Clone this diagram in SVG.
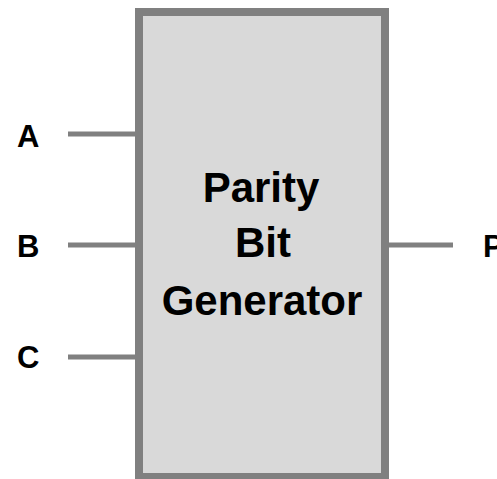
<svg xmlns="http://www.w3.org/2000/svg" width="497" height="479" viewBox="0 0 497 479">
<style>
.wire{stroke:#808080;stroke-width:5;fill:none}
.lbl{font-family:"Liberation Sans",Arial,sans-serif;font-weight:bold;font-size:31px;fill:#000}
.title{font-family:"Liberation Sans",Arial,sans-serif;font-weight:bold;font-size:42px;fill:#000;text-anchor:middle}
</style>
<rect width="497" height="479" fill="#ffffff"/>
<g id="connectors">
<line class="wire" x1="68" y1="134" x2="137" y2="134"/>
<line class="wire" x1="68" y1="245" x2="137" y2="245"/>
<line class="wire" x1="68" y1="357" x2="137" y2="357"/>
<line class="wire" x1="387" y1="245" x2="453" y2="245"/>
</g>
<g id="generator">
<rect x="139" y="12" width="246" height="465" fill="#d9d9d9" stroke="#808080" stroke-width="8"/>
<text class="title" x="261" y="202">Parity</text>
<text class="title" x="263" y="257">Bit</text>
<text class="title" x="262" y="315">Generator</text>
</g>
<g id="inA"><text class="lbl" x="17" y="147">A</text></g>
<g id="inB"><text class="lbl" x="17" y="257">B</text></g>
<g id="inC"><text class="lbl" x="17" y="368">C</text></g>
<g id="outP"><text class="lbl" x="483" y="257">P</text></g>
</svg>
